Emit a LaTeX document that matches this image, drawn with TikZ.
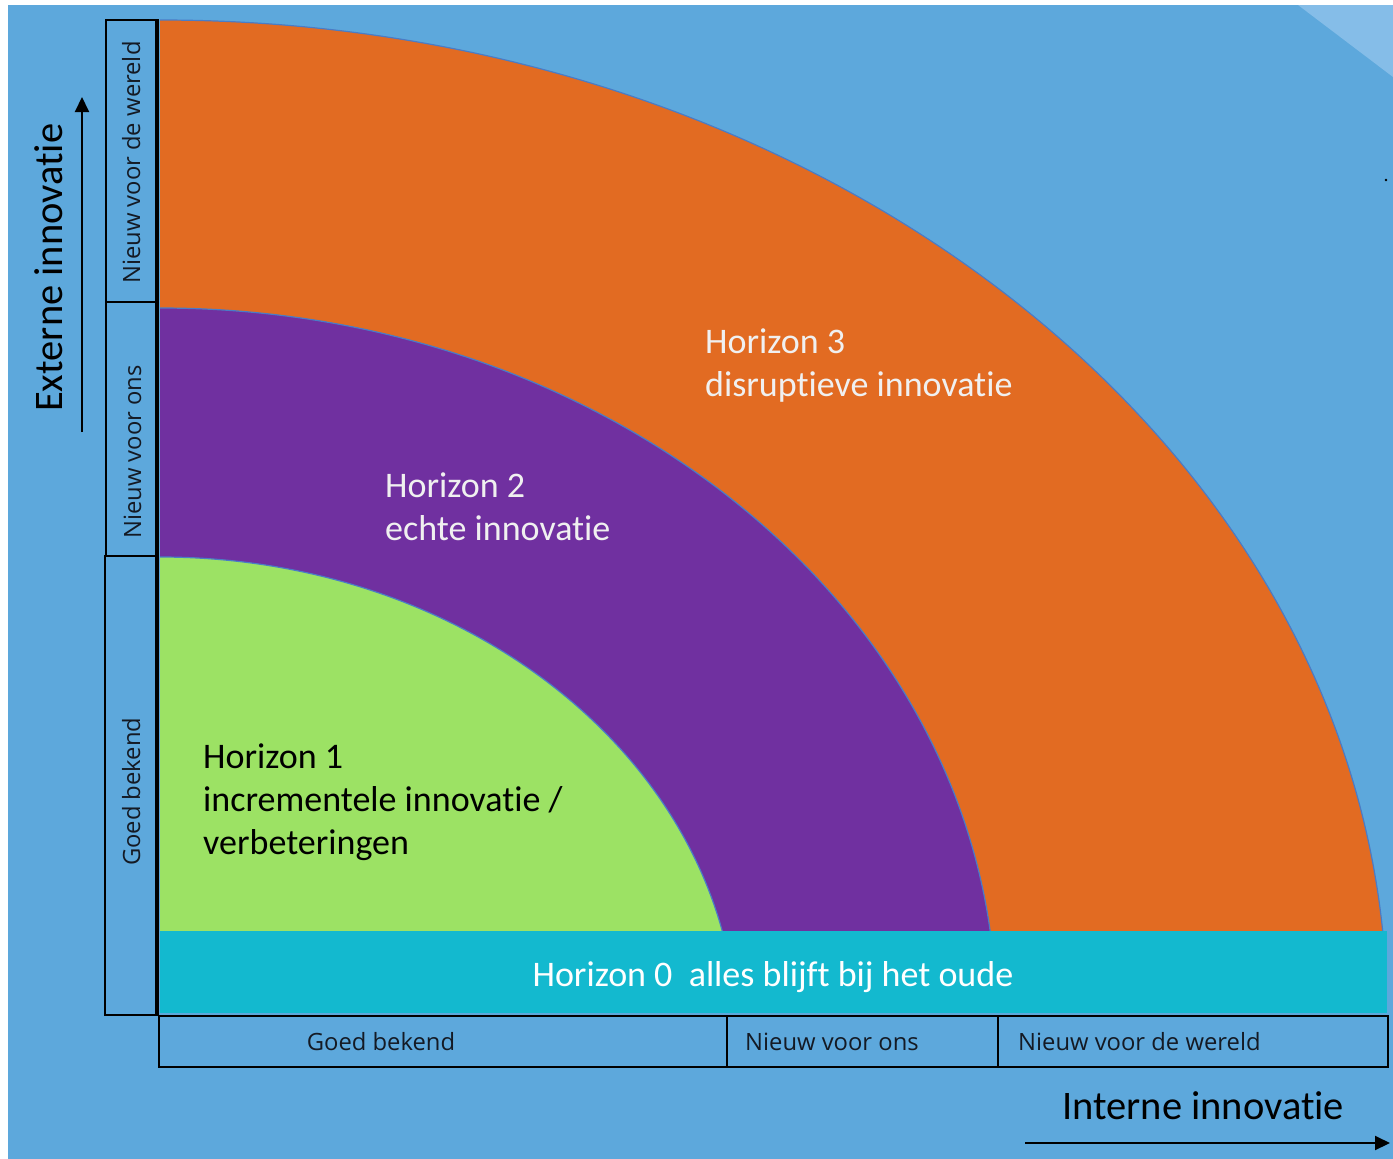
\documentclass[tikz,border=0pt]{standalone}
\usepackage{fontspec}
\setmainfont{Carlito}[Ligatures=NoCommon]
\newfontfamily\labfont{Open Sans}[Ligatures=NoCommon]
\usetikzlibrary{arrows.meta}
\definecolor{bgblue}{HTML}{5DA8DC}
\definecolor{lightblue}{HTML}{85BDE8}
\definecolor{horange}{HTML}{E26B22}
\definecolor{hpurple}{HTML}{7030A0}
\definecolor{hgreen}{HTML}{9CE264}
\definecolor{hcyan}{HTML}{13B9CF}
\definecolor{outl}{HTML}{4A7CC6}
\definecolor{offwhite}{HTML}{F0F0F0}
\definecolor{labcol}{HTML}{141A24}
\tikzset{
  arcshape/.style={draw=outl, line width=1.2pt},
  boxline/.style={draw=black, line width=2.5pt},
  biglab/.style={font=\fontsize{36}{43}\selectfont, inner sep=0pt, anchor=base west},
  smalllab/.style={font=\labfont\fontsize{23.8}{28}\selectfont, text=labcol, inner sep=0pt},
  axislab/.style={font=\fontsize{40.5}{48}\selectfont, text=black, inner sep=0pt, anchor=base west},
  axisarrow/.style={line width=2pt, -{Triangle[length=15pt,width=14pt]}}
}
\begin{document}
\begin{tikzpicture}[x=1pt,y=-1pt]
\useasboundingbox (0,0) rectangle (1393,1159);
\fill[white] (0,0) rectangle (1393,1159);
\fill[bgblue] (8,5) rectangle (1393,1159);
\fill[lightblue] (1298,5) -- (1393,5) -- (1393,77) -- cycle;
\fill[black] (1386,180) circle (1.3pt);
% horizons
\begin{scope}
  \clip (160,0) rectangle (1393,931);
  \path[arcshape, fill=horange] (160,1015) ellipse [x radius=1227pt, y radius=995pt];
  \path[arcshape, fill=hpurple] (160,1015) ellipse [x radius=836pt, y radius=707pt];
  \path[arcshape, fill=hgreen] (160,1040) ellipse [x radius=577pt, y radius=483pt];
\end{scope}
\fill[hcyan] (160,931) rectangle (1387,1013);
% texts in horizons
\node[biglab, text=offwhite] (h3a) at (705,353) {Horizon 3};
\node[biglab, text=offwhite] (h3b) at (705,396) {disruptieve innovatie};
\node[biglab, text=offwhite] (h2a) at (385,497) {Horizon 2};
\node[biglab, text=offwhite] (h2b) at (385,540) {echte innovatie};
\node[biglab, text=black] (h1a) at (203,768) {Horizon 1};
\node[biglab, text=black] (h1b) at (203,811) {incrementele innovatie /};
\node[biglab, text=black] (h1c) at (203,854) {verbeteringen};
\node[font=\fontsize{36}{43}\selectfont, text=white, inner sep=0pt, anchor=base] (h0) at (773,986) {Horizon 0\ \ alles blijft bij het oude};
% left boxes
\draw[boxline] (106,20) rectangle (157,302);
\draw[boxline] (106,302) rectangle (157,556);
\draw[boxline] (105,556) rectangle (157,1015);
\draw[line width=4pt] (156.5,19) -- (156.5,1015);
\node[smalllab, rotate=90, anchor=base west] (lv3) at (140,284) {Nieuw voor de wereld};
\node[smalllab, rotate=90, anchor=base west] (lv2) at (141,539) {Nieuw voor ons};
\node[smalllab, rotate=90, anchor=base west] (lv1) at (140,866) {Goed bekend};
% bottom boxes
\draw[boxline] (159,1016) rectangle (727,1067);
\draw[boxline] (727,1016) rectangle (998,1067);
\draw[boxline] (998,1016) rectangle (1388,1067);
\node[smalllab, anchor=base] (lb1) at (381,1050) {Goed bekend};
\node[smalllab, anchor=base west] (lb2) at (745,1050) {Nieuw voor ons};
\node[smalllab, anchor=base west] (lb3) at (1018,1050) {Nieuw voor de wereld};
% axes
\node[axislab, rotate=90] (ext) at (62,412) {Externe innovatie};
\node[axislab] (int) at (1062,1119) {Interne innovatie};
\coordinate (va1) at (82,432);
\coordinate (va2) at (82,97);
\draw[axisarrow] (va1) -- (va2);
\coordinate (ha1) at (1025,1143);
\coordinate (ha2) at (1390,1143);
\draw[axisarrow] (ha1) -- (ha2);
\end{tikzpicture}
\end{document}
